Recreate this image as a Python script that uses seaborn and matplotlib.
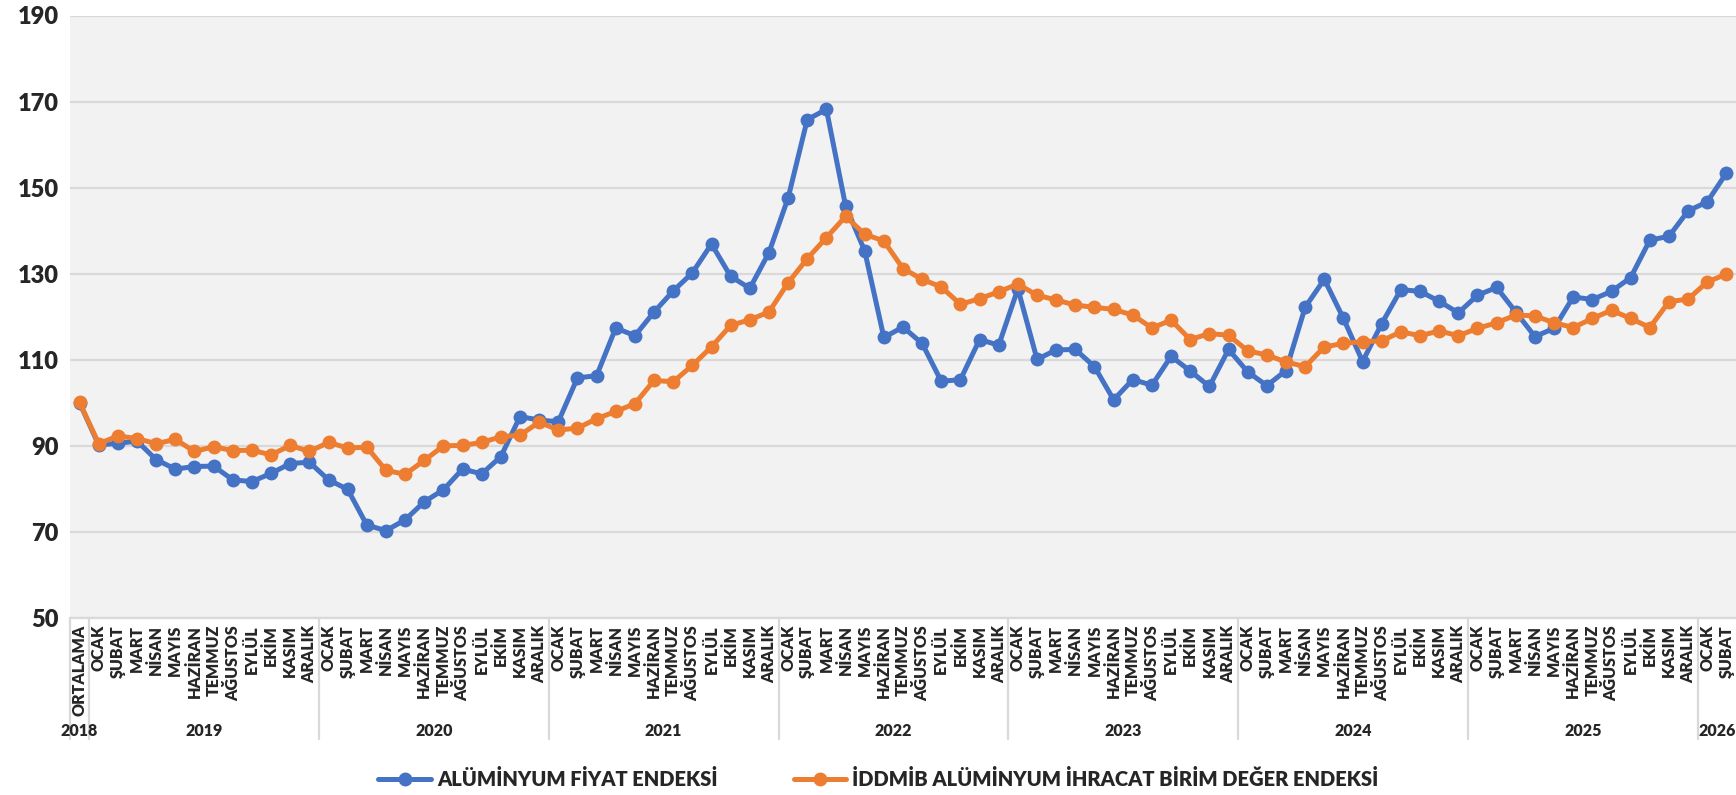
import matplotlib
matplotlib.use("Agg")
import matplotlib.pyplot as plt
import matplotlib.transforms as mtransforms
import numpy as np
import pandas as pd
import seaborn as sns

# categories
months = ["OCAK", "ŞUBAT", "MART", "NİSAN", "MAYIS", "HAZİRAN", "TEMMUZ",
          "AĞUSTOS", "EYLÜL", "EKİM", "KASIM", "ARALIK"]
month_labels = ["ORTALAMA"] + months * 7 + ["OCAK", "ŞUBAT"]
year_names = ["2018", "2019", "2020", "2021", "2022", "2023", "2024", "2025", "2026"]
year_sizes = [1, 12, 12, 12, 12, 12, 12, 12, 2]

series_names = ["ALÜMİNYUM FİYAT ENDEKSİ", "İDDMİB ALÜMİNYUM İHRACAT BİRİM DEĞER ENDEKSİ"]

fiyat = [100.0,
         90.2, 90.6, 91.1, 86.8, 84.6, 85.2, 85.3, 82.1, 81.7, 83.6, 85.9, 86.2,
         82.1, 79.9, 71.6, 70.3, 72.8, 77.0, 79.8, 84.6, 83.5, 87.5, 96.8, 96.0,
         95.6, 105.8, 106.3, 117.4, 115.6, 121.1, 126.0, 130.2, 136.9, 129.4, 126.6, 134.9,
         147.6, 165.8, 168.2, 145.8, 135.3, 115.2, 117.6, 113.8, 105.0, 105.4, 114.7, 113.4,
         126.5, 110.1, 112.3, 112.4, 108.4, 100.7, 105.4, 104.1, 110.8, 107.4, 103.8, 112.4,
         107.2, 104.0, 107.5, 122.2, 128.7, 119.6, 109.6, 118.4, 126.3, 125.9, 123.6, 120.9,
         125.0, 126.8, 121.1, 115.4, 117.3, 124.6, 124.0, 125.9, 129.1, 137.8, 138.7, 144.6,
         146.7, 153.4]

ihracat = [100.1,
           90.5, 92.3, 91.7, 90.5, 91.5, 88.7, 89.8, 88.9, 89.0, 87.9, 90.1, 88.7,
           90.8, 89.5, 89.7, 84.3, 83.4, 86.6, 90.0, 90.1, 90.8, 92.1, 92.5, 95.5,
           93.7, 94.1, 96.3, 98.0, 99.8, 105.2, 104.9, 108.7, 113.0, 118.0, 119.3, 121.1,
           127.9, 133.5, 138.4, 143.3, 139.2, 137.6, 131.2, 128.7, 126.9, 122.9, 124.2, 125.8,
           127.6, 125.0, 123.9, 122.7, 122.2, 121.7, 120.4, 117.4, 119.2, 114.7, 116.1, 115.7,
           112.1, 111.1, 109.5, 108.4, 113.0, 113.8, 114.2, 114.4, 116.5, 115.6, 116.7, 115.6,
           117.3, 118.6, 120.4, 120.2, 118.6, 117.5, 119.6, 121.5, 119.6, 117.5, 123.5, 124.1,
           128.1, 129.9]

yticks = [50, 70, 90, 110, 130, 150, 170, 190]

sns.set_style("white")
plt.rcParams["font.family"] = ["Lato", "DejaVu Sans"]

pos = np.arange(len(month_labels))
df = pd.DataFrame({
    "pos": np.concatenate([pos, pos]),
    "deger": fiyat + ihracat,
    "seri": [series_names[0]] * len(pos) + [series_names[1]] * len(pos),
})

fig = plt.figure(figsize=(17.36, 7.95), dpi=100)
ax = fig.add_axes([70 / 1736, 1 - 618 / 795, 1 - 70 / 1736, (618 - 15.5) / 795])
ax.set_facecolor("#F2F2F2")

sns.lineplot(data=df, x="pos", y="deger", hue="seri", hue_order=series_names,
             palette=["#4472C4", "#ED7D31"], marker="o", markersize=10,
             markeredgewidth=0, linewidth=3.6, ax=ax, legend=True)

ax.set_xlim(-0.5, len(pos) - 0.5)
ax.set_ylim(50, 190)
ax.set_yticks(yticks)
ax.set_yticklabels([str(v) for v in yticks], fontsize=17, fontweight="heavy")
ax.yaxis.grid(True, color="#D9D9D9", linewidth=1.6)
ax.set_axisbelow(True)
ax.tick_params(axis="y", length=0, pad=8)
ax.tick_params(axis="x", length=0, pad=5)
ax.set_xticks(pos)
ax.set_xticklabels(month_labels, rotation=90, fontsize=11.5, fontweight="heavy")
ax.set_xlabel("")
ax.set_ylabel("")
for s in ["top", "right", "left"]:
    ax.spines[s].set_visible(False)
ax.spines["bottom"].set_color("#D9D9D9")
ax.spines["bottom"].set_linewidth(1.6)

# year group separators and labels
trans = mtransforms.blended_transform_factory(ax.transData, ax.transAxes)
start = 0
edges = [-0.5]
for name, n in zip(year_names, year_sizes):
    mid = start + (n - 1) / 2
    ax.text(mid, -0.188, name, transform=trans, ha="center", va="center",
            fontsize=11.5, fontweight="heavy")
    start += n
    edges.append(start - 0.5)
for e in edges[:-1]:
    ax.plot([e, e], [0, -0.2], transform=trans, color="#D9D9D9", linewidth=1.6,
            clip_on=False)

handles, labels = ax.get_legend_handles_labels()
ax.get_legend().remove()
fig.legend(handles, labels, loc="center", bbox_to_anchor=(0.506, 0.02), ncol=2,
           frameon=False, prop={"size": 14.5, "weight": "heavy"}, handlelength=2.6,
           columnspacing=3.8, handletextpad=0.3)

fig.savefig("out.png", dpi=100)
